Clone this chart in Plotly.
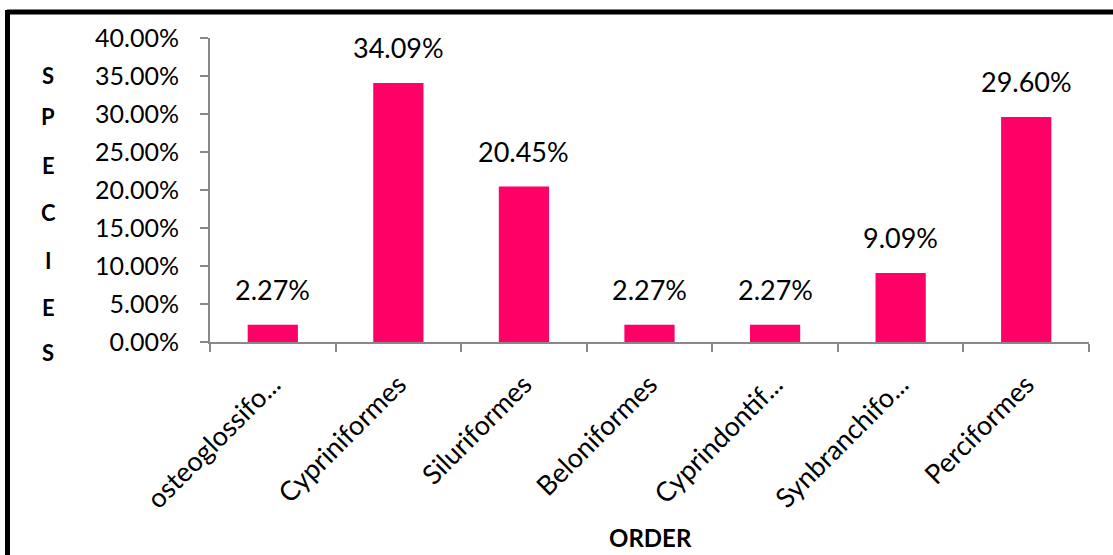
import plotly.graph_objects as go

categories = ["osteoglossifo...", "Cypriniformes", "Siluriformes", "Beloniformes",
              "Cyprindontif...", "Synbranchifo...", "Perciformes"]
values = [0.0227, 0.3409, 0.2045, 0.0227, 0.0227, 0.0909, 0.2960]
labels = ["2.27%", "34.09%", "20.45%", "2.27%", "2.27%", "9.09%", "29.60%"]
y_title_letters = ["S", "P", "E", "C", "I", "E", "S"]
x_title = "ORDER"

W, H = 1113, 555
L, R, T, B = 210, 24, 38, 213
pw, ph = W - L - R, H - T - B

FONT = "Lato"
BAR = "#FF0066"

fig = go.Figure()
fig.add_trace(go.Bar(x=categories, y=values, marker=dict(color=BAR, line=dict(width=0)),
                     width=0.4, hoverinfo="skip"))

for c, v, t in zip(categories, values, labels):
    fig.add_annotation(x=c, y=v, text=t, showarrow=False, yanchor="bottom", yshift=17,
                       font=dict(family=FONT, size=27, color="black"))

def px2paper_x(px):
    return (px - L) / pw

def px2paper_y(py):
    return (H - B - py) / ph

# vertical stacked y-axis title letters
letter_ys = [75, 117, 165, 213, 260, 307, 352]
for ch, py in zip(y_title_letters, letter_ys):
    fig.add_annotation(xref="paper", yref="paper", x=px2paper_x(48), y=px2paper_y(py),
                       text="<b>%s</b>" % ch, showarrow=False, xanchor="center", yanchor="middle",
                       font=dict(family=FONT, size=22, color="black"))

fig.add_annotation(xref="paper", yref="paper", x=px2paper_x(650), y=px2paper_y(537),
                   text="<b>%s</b>" % x_title, showarrow=False, xanchor="center", yanchor="middle",
                   font=dict(family=FONT, size=24, color="black"))

# frame lines (top and left)
fig.add_shape(type="line", xref="paper", yref="paper",
              x0=px2paper_x(7), x1=px2paper_x(W + 5), y0=px2paper_y(12), y1=px2paper_y(12),
              line=dict(color="black", width=5))
fig.add_shape(type="line", xref="paper", yref="paper",
              x0=px2paper_x(7.5), x1=px2paper_x(7.5), y0=px2paper_y(10), y1=px2paper_y(H + 5),
              line=dict(color="black", width=5))

fig.update_layout(
    width=W, height=H, margin=dict(l=L, r=R, t=T, b=B, autoexpand=False),
    paper_bgcolor="white", plot_bgcolor="white", showlegend=False,
    bargap=0.6,
    xaxis=dict(showgrid=False, showline=True, linecolor="#888888", linewidth=2,
               ticks="outside", tickson="boundaries", ticklen=8, tickcolor="#888888", tickwidth=2,
               tickangle=-45, tickfont=dict(family=FONT, size=27, color="black"),
               ticklabelstandoff=14, zeroline=False, fixedrange=True),
    yaxis=dict(range=[0, 0.40], dtick=0.05, tickformat=".2%", showgrid=False, showline=True,
               linecolor="#888888", linewidth=2, ticks="outside", ticklen=8,
               tickcolor="#888888", tickwidth=2, ticklabelstandoff=16,
               tickfont=dict(family=FONT, size=25, color="black"), zeroline=False,
               fixedrange=True),
)

fig.write_html("out.html")
